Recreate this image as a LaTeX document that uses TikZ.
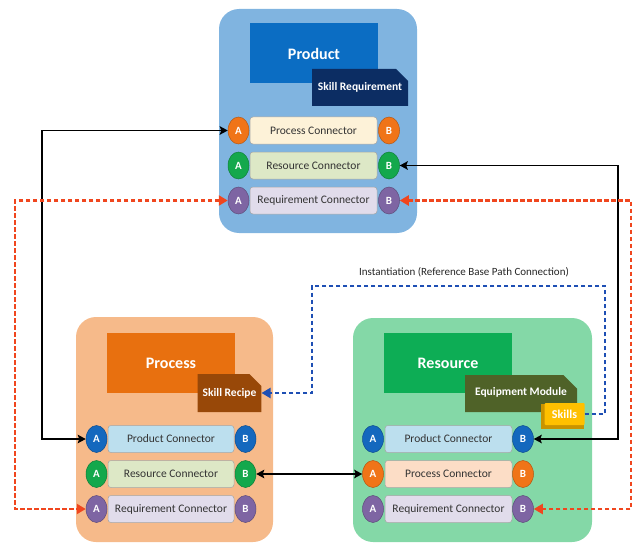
\documentclass[tikz,border=0pt]{standalone}
\usepackage{fontspec}
\setmainfont{Carlito}
\usetikzlibrary{arrows.meta,shapes.geometric,shapes.misc}
\definecolor{prodbg}{HTML}{80B4E0}
\definecolor{prodtitle}{HTML}{0B6DC3}
\definecolor{prodsub}{HTML}{0C2D63}
\definecolor{procbg}{HTML}{F6BA8A}
\definecolor{proctitle}{HTML}{E8700F}
\definecolor{procsub}{HTML}{984808}
\definecolor{resbg}{HTML}{84D8A7}
\definecolor{restitle}{HTML}{0DAD55}
\definecolor{ressub}{HTML}{4F6228}
\definecolor{skillsY}{HTML}{FFC000}
\definecolor{skillsD}{HTML}{C99300}
\definecolor{cOrange}{HTML}{F07418}
\definecolor{cGreen}{HTML}{14A84C}
\definecolor{cPurple}{HTML}{7E65A3}
\definecolor{cBlue}{HTML}{1468BE}
\definecolor{rCream}{HTML}{FDF2D8}
\definecolor{rPeach}{HTML}{FCDDC6}
\definecolor{rGreen}{HTML}{DDE8C6}
\definecolor{rPurple}{HTML}{E1DCEB}
\definecolor{rBlue}{HTML}{BCDFEE}
\definecolor{redarrow}{HTML}{F0461E}
\definecolor{bluearrow}{HTML}{1E4FB4}
\tikzset{
  panel/.style={rounded corners=20pt},
  titlebox/.style={minimum width=128pt,minimum height=60pt,inner sep=0pt,
    text=white,font=\fontsize{16}{18}\selectfont\bfseries},
  subbox/.style={chamfered rectangle,chamfered rectangle corners=north east,
    chamfered rectangle xsep=7pt,chamfered rectangle ysep=7pt,
    inner sep=0pt,text=white,font=\fontsize{11.5}{13}\selectfont\bfseries},
  ab/.style={ellipse,minimum width=21pt,minimum height=27pt,inner sep=0pt,
    draw=#1!75!black,line width=0.5pt,fill=#1,text=white,
    font=\fontsize{11}{12}\selectfont\bfseries},
  conn/.style={rounded corners=3pt,draw=black!35,line width=0.5pt,fill=#1,
    minimum height=27pt,inner sep=0pt,text=black!80,
    font=\fontsize{11.5}{13}\selectfont},
  blk/.style={line width=1.6pt,black,{Stealth[length=8pt,width=8.5pt,inset=1.5pt]}-{Stealth[length=8pt,width=8.5pt,inset=1.5pt]}},
  reddash/.style={line width=2.8pt,redarrow,dash pattern=on 4.5pt off 2.5pt,
    {Triangle[length=9pt,width=10pt]}-{Triangle[length=9pt,width=10pt]}},
  bluedash/.style={line width=2.8pt,bluearrow,dash pattern=on 4.5pt off 2.5pt,
    -{Triangle[length=9pt,width=10pt]}}
}
\begin{document}
\begin{tikzpicture}[x=1pt,y=-1pt]
\useasboundingbox (0,0) rectangle (638,543);
% panels
\fill[panel,prodbg] (219,9) rectangle (417,233);
\fill[panel,procbg] (76,317) rectangle (273,542);
\fill[panel,resbg] (353,318) rectangle (592,542);
% Product
\node[titlebox,fill=prodtitle] (prodT) at (314,53.5) {Product};
\node[subbox,fill=prodsub,minimum width=96pt,minimum height=37pt] (prodS) at (360,87.5) {Skill Requirement};
\node[conn=rCream,minimum width=127pt] (prodProcR) at (313.5,130.5) {Process Connector};
\node[conn=rGreen,minimum width=127pt] (prodResR) at (313.5,165.5) {Resource Connector};
\node[conn=rPurple,minimum width=127pt] (prodReqR) at (313.5,200.5) {Requirement Connector};
\node[ab=cOrange] (prodProcA) at (238.5,130.5) {A};
\node[ab=cOrange] (prodProcB) at (389,130.5) {B};
\node[ab=cGreen] (prodResA) at (238.5,165.5) {A};
\node[ab=cGreen] (prodResB) at (389,165.5) {B};
\node[ab=cPurple] (prodReqA) at (238.5,200.5) {A};
\node[ab=cPurple] (prodReqB) at (389,200.5) {B};
% Process
\node[titlebox,fill=proctitle] (procT) at (171,363) {Process};
\node[subbox,fill=procsub,minimum width=63pt,minimum height=38pt] (procS) at (229.5,393) {Skill Recipe};
\node[conn=rBlue,minimum width=126pt] (procProdR) at (171,439) {Product Connector};
\node[conn=rGreen,minimum width=126pt] (procResR) at (171,474) {Resource Connector};
\node[conn=rPurple,minimum width=126pt] (procReqR) at (171,509) {Requirement Connector};
\node[ab=cBlue] (procProdA) at (96.5,439) {A};
\node[ab=cBlue] (procProdB) at (245.5,439) {B};
\node[ab=cGreen] (procResA) at (96.5,474) {A};
\node[ab=cGreen] (procResB) at (245.5,474) {B};
\node[ab=cPurple] (procReqA) at (96.5,509) {A};
\node[ab=cPurple] (procReqB) at (245.5,509) {B};
% Resource
\node[titlebox,fill=restitle] (resT) at (448,363) {Resource};
\node[subbox,fill=ressub,minimum width=112pt,minimum height=37pt] (resS) at (521,393.5) {Equipment Module\rule[-5pt]{0pt}{0pt}};
\fill[skillsD] (541,404) rectangle (584,429);
\node[fill=skillsY,minimum width=40pt,minimum height=22pt,inner sep=0pt,rounded corners=1pt,
  text=white,font=\fontsize{12}{13}\selectfont\bfseries] (skills) at (564.5,414) {Skills};
\node[conn=rBlue,minimum width=127pt] (resProdR) at (448.5,439) {Product Connector};
\node[conn=rPeach,minimum width=127pt] (resProcR) at (448.5,474) {Process Connector};
\node[conn=rPurple,minimum width=127pt] (resReqR) at (448.5,509) {Requirement Connector};
\node[ab=cBlue] (resProdA) at (373,439) {A};
\node[ab=cBlue] (resProdB) at (523,439) {B};
\node[ab=cOrange] (resProcA) at (373,474) {A};
\node[ab=cOrange] (resProcB) at (523,474) {B};
\node[ab=cPurple] (resReqA) at (373,509) {A};
\node[ab=cPurple] (resReqB) at (523,509) {B};
% routing coordinates
\coordinate (xl1) at (42,0);
\coordinate (xl2) at (15,0);
\coordinate (xr1) at (618,0);
\coordinate (xr2) at (631,0);
\coordinate (blueR) at (605,286);
\coordinate (blueL) at (312,286);
% black connectors
\draw[blk] (prodProcA.west) -- (prodProcA.west -| xl1) -- (procProdA.west -| xl1) -- (procProdA.west);
\draw[blk] (prodResB.east) -- (prodResB.east -| xr1) -- (resProdB.east -| xr1) -- (resProdB.east);
\draw[blk] (procResB.east) -- (resProcA.west);
% red dashed
\draw[reddash] (prodReqA.west) -- (prodReqA.west -| xl2) -- (procReqA.west -| xl2) -- (procReqA.west);
\draw[reddash] (prodReqB.east) -- (prodReqB.east -| xr2) -- (resReqB.east -| xr2) -- (resReqB.east);
% blue dashed
\draw[bluedash] (skills.east) -| (blueR) -- (blueL) |- (procS.east);
\node[font=\fontsize{11}{12}\selectfont,text=black!85] (inst) at (464,272) {Instantiation (Reference Base Path Connection)};
\end{tikzpicture}
\end{document}
